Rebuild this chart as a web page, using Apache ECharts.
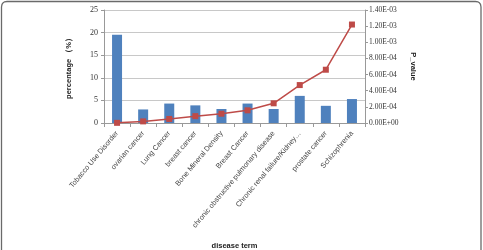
<!DOCTYPE html>
<html><head><meta charset="utf-8">
<script src="https://cdn.jsdelivr.net/npm/echarts@6/dist/echarts.min.js"></script>
<style>html,body{margin:0;padding:0;background:#fff}#c{width:483px;height:250px}</style>
</head><body><div id="c"></div>
<script>
var categories = ["Tobacco Use Disorder","ovarian cancer","Lung Cancer","breast cancer","Bone Mineral Density","Breast Cancer","chronic obstructive pulmonary disease","Chronic renal failure/Kidney…","prostate cancer","Schizophrenia"];
var percentage = [19.5, 3.0, 4.3, 3.9, 3.1, 4.3, 3.1, 6.0, 3.8, 5.3];
var pValue = [0.000002, 0.00002, 0.00005, 0.000085, 0.000115, 0.000157, 0.000244, 0.00047, 0.00066, 0.00122];
var leftTicks = [0, 5, 10, 15, 20, 25];
var rightTicks = ["0.00E+00","2.00E-04","4.00E-04","6.00E-04","8.00E-04","1.00E-03","1.20E-03","1.40E-03"];

var chart = echarts.init(document.getElementById('c'), null, {renderer:'canvas'});
var serif = '"Liberation Serif", "DejaVu Serif", serif';
var sans = '"Liberation Sans", Arial, sans-serif';
chart.setOption({
  animation:false,
  backgroundColor:'#fff',
  graphic:[{type:'polyline', shape:{points:[[1.5,252],[1.5,7],[2,4.3],[3.2,2.7],[4.6,1.8],[7,1.5],[475.5,1.5],[477.9,1.8],[479.3,2.7],[480.5,4.3],[481,7],[481,252]]},
    style:{fill:null, stroke:'#6a6a6a', lineWidth:1.3}}],
  grid:{left:104, right:118, top:10, bottom:127, outerBoundsMode:'none', containLabel:false},
  xAxis:{
    type:'category', data:categories,
    axisLine:{lineStyle:{color:'#999'}},
    axisTick:{show:true, alignWithLabel:false, length:4, lineStyle:{color:'#999'}},
    axisLabel:{rotate:50, fontSize:7.3, color:'#444', margin:9, interval:0, fontFamily:sans},
    name:'disease term', nameLocation:'middle', nameGap:119,
    nameTextStyle:{fontSize:7.5, fontWeight:'bold', color:'#222', fontFamily:sans}
  },
  yAxis:[{
    type:'value', min:0, max:25, interval:5,
    axisLine:{show:true, lineStyle:{color:'#999'}},
    axisTick:{show:true, length:3, lineStyle:{color:'#999'}},
    splitLine:{lineStyle:{color:'#c8c8c8'}},
    axisLabel:{fontSize:8, color:'#333', margin:6, fontFamily:serif,
      formatter:function(v){return leftTicks.indexOf(v)>=0? String(v):'';}},
    name:'percentage （%）', nameLocation:'middle', nameGap:31,
    nameTextStyle:{fontSize:7.5, fontWeight:'bold', color:'#222', fontFamily:sans}
  },{
    type:'value', min:0, max:0.0014, interval:0.0002, position:'right',
    axisLine:{show:true, lineStyle:{color:'#999'}},
    axisTick:{show:true, length:3, lineStyle:{color:'#999'}},
    splitLine:{show:false},
    axisLabel:{fontSize:7.5, color:'#333', margin:4, fontFamily:serif,
      formatter:function(v){return rightTicks[Math.round(v/0.0002)];}},
    name:'P_value', nameLocation:'middle', nameGap:37, nameRotate:-90,
    nameTextStyle:{fontSize:7.5, fontWeight:'bold', color:'#222', fontFamily:sans}
  }],
  series:[{
    type:'bar', data:percentage, barWidth:10, yAxisIndex:0,
    itemStyle:{color:'#4F81BD'}
  },{
    type:'line', data:pValue, yAxisIndex:1,
    symbol:'rect', symbolSize:6,
    lineStyle:{color:'#BE4B48', width:1.5},
    itemStyle:{color:'#BE4B48'}
  }]
});
</script></body></html>
